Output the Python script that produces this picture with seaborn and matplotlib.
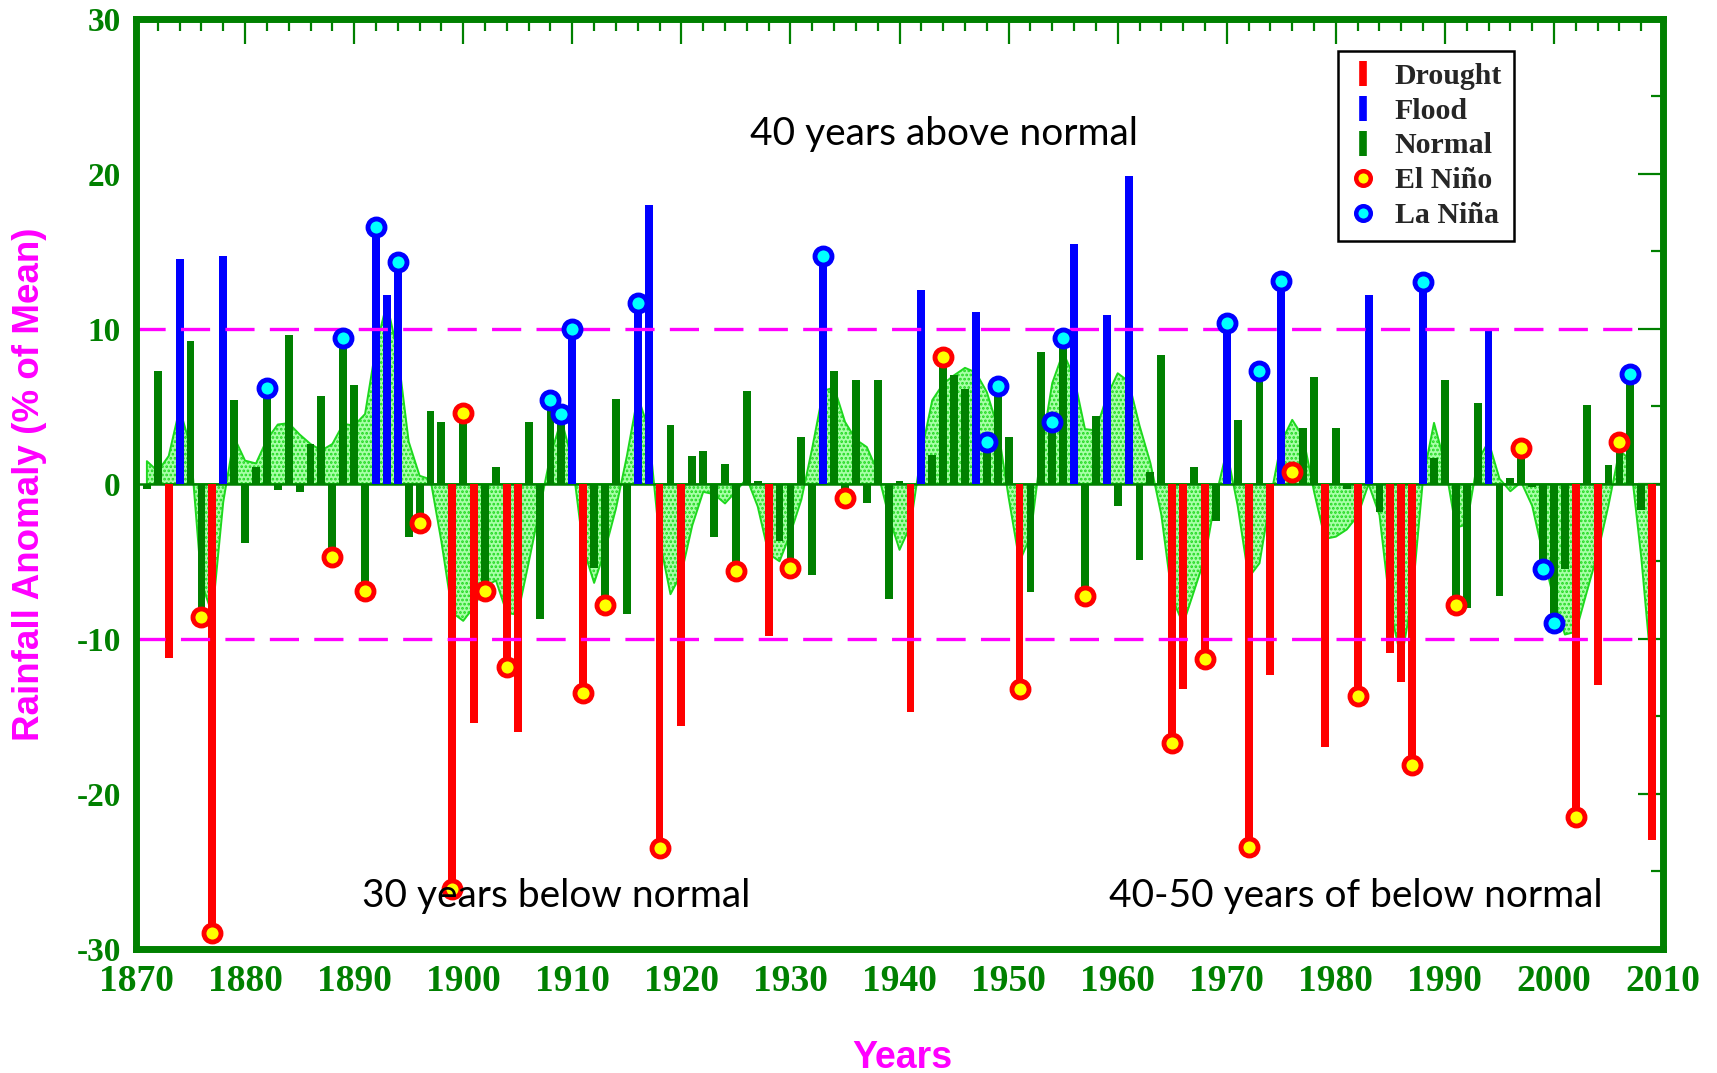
import numpy as np
import pandas as pd
import matplotlib
matplotlib.use("Agg")
import matplotlib.pyplot as plt
import seaborn as sns
from matplotlib.lines import Line2D
from matplotlib.ticker import MultipleLocator, FormatStrFormatter

# ---------------- data ----------------
years = list(range(1871, 2010))
anomaly = [
    -0.3, 7.3, -11.2, 14.5, 9.2, -8.6, -29.0, 14.7, 5.4, -3.8,      # 1871-1880
    1.1, 6.2, -0.4, 9.6, -0.5, 2.6, 5.7, -4.7, 9.4, 6.4,            # 1881-1890
    -6.9, 16.6, 12.2, 14.3, -3.4, -2.5, 4.7, 4.0, -26.1, 4.6,       # 1891-1900
    -15.4, -6.9, 1.1, -11.8, -16.0, 4.0, -8.7, 5.4, 4.5, 10.0,      # 1901-1910
    -13.5, -5.4, -7.8, 5.5, -8.4, 11.7, 18.0, -23.5, 3.8, -15.6,    # 1911-1920
    1.8, 2.1, -3.4, 1.3, -5.6, 6.0, 0.2, -9.8, -3.7, -5.4,          # 1921-1930
    3.0, -5.9, 14.7, 7.3, -0.9, 6.7, -1.2, 6.7, -7.4, 0.2,          # 1931-1940
    -14.7, 12.5, 1.9, 8.2, 7.0, 6.1, 11.1, 2.7, 6.3, 3.0,           # 1941-1950
    -13.2, -7.0, 8.5, 4.0, 9.4, 15.5, -7.2, 4.4, 10.9, -1.4,        # 1951-1960
    19.9, -4.9, 0.8, 8.3, -16.7, -13.2, 1.1, -11.3, -2.4, 10.4,     # 1961-1970
    4.1, -23.4, 7.3, -12.3, 13.1, 0.8, 3.6, 6.9, -17.0, 3.6,        # 1971-1980
    -0.3, -13.7, 12.2, -1.8, -10.9, -12.8, -18.1, 13.0, 1.7, 6.7,   # 1981-1990
    -7.8, -8.0, 5.2, 9.9, -7.2, 0.4, 2.3, -0.2, -5.5, -9.0,         # 1991-2000
    -5.5, -21.5, 5.1, -13.0, 1.2, 2.7, 7.1, -1.7, -23.0,            # 2001-2009
]
drought_years = [1873, 1877, 1899, 1901, 1904, 1905, 1911, 1918, 1920, 1928,
                 1941, 1951, 1965, 1966, 1968, 1972, 1974, 1979, 1982, 1985,
                 1986, 1987, 2002, 2004, 2009]
flood_years = [1874, 1878, 1892, 1893, 1894, 1910, 1916, 1917, 1933, 1942,
               1947, 1956, 1959, 1961, 1970, 1975, 1983, 1988, 1994]
el_nino_years = [1876, 1877, 1888, 1891, 1896, 1899, 1900, 1902, 1904, 1911,
                 1913, 1918, 1925, 1930, 1935, 1944, 1951, 1957, 1965, 1968,
                 1972, 1976, 1982, 1987, 1991, 1997, 2002, 2006]
la_nina_years = [1882, 1889, 1892, 1894, 1908, 1909, 1910, 1916, 1933, 1948,
                 1949, 1954, 1955, 1970, 1973, 1975, 1988, 1999, 2000, 2007]
thresholds = [10, -10]
threshold_span = [1870, 2008]
notes = ["40 years above normal", "30 years below normal", "40-50 years of below normal"]
note_x = [1944.1, 1908.5, 1981.8]
note_y = [22.6, -26.6, -26.6]
categories = ["Drought", "Flood", "Normal"]
cat_colors = ["#ff0000", "#0000ff", "#008000"]

# ---------------- styling ----------------
sns.set_theme(style="white")
plt.rcParams["font.family"] = ["Liberation Serif", "DejaVu Serif"]
plt.rcParams["axes.unicode_minus"] = False
plt.rcParams["lines.scale_dashes"] = False
plt.rcParams["hatch.linewidth"] = 1.3

GREEN = "#008000"
MAGENTA = "#ff00ff"

df = pd.DataFrame({"year": years, "anomaly": anomaly})
df["category"] = np.where(df["year"].isin(drought_years), "Drought",
                          np.where(df["year"].isin(flood_years), "Flood", "Normal"))
# low-pass (binomial 1-4-6-4-1) filtered series shown as hatched band
w = np.array([1, 4, 6, 4, 1], dtype=float)
v = df["anomaly"].to_numpy()
df["smooth"] = np.convolve(v, w, mode="same") / np.convolve(np.ones_like(v), w, mode="same")

fig = plt.figure(figsize=(17.17, 10.73), dpi=100)
ax = fig.add_axes([0.0792, 0.1156, 0.8894, 0.8667])

ax.fill_between(df["year"], df["smooth"], 0, facecolor="#a8ffa8",
                edgecolor="#1ed81e", hatch="....", linewidth=1.4, zorder=1)

sns.barplot(data=df, x="year", y="anomaly", hue="category",
            hue_order=categories, palette=dict(zip(categories, cat_colors)),
            native_scale=True, dodge=False, width=0.72, saturation=1,
            errorbar=None, legend=False, ax=ax, zorder=3, linewidth=0,
            edgecolor="none")

ax.axhline(0, color=GREEN, lw=1.8, zorder=2.5)
ax.hlines(thresholds, threshold_span[0], threshold_span[1], colors=MAGENTA,
          linestyles=[(0, (21, 11))], linewidth=2.4, zorder=4)

sns.scatterplot(data=df[df["year"].isin(el_nino_years)], x="year", y="anomaly",
                marker="o", s=150, color="#ffff00", edgecolor="#ff0000",
                linewidth=3.5, zorder=6, ax=ax, legend=False)
sns.scatterplot(data=df[df["year"].isin(la_nina_years)], x="year", y="anomaly",
                marker="o", s=150, color="#00ffff", edgecolor="#0000ff",
                linewidth=3.5, zorder=6, ax=ax, legend=False)

for s, x, y in zip(notes, note_x, note_y):
    ax.text(x, y, s, ha="center", va="center", fontsize=28,
            family=["Lato", "DejaVu Sans"], color="black", zorder=7)

ax.set_xlim(1870, 2010)
ax.set_ylim(-30, 30)
ax.xaxis.set_major_locator(MultipleLocator(10))
ax.xaxis.set_minor_locator(MultipleLocator(2))
ax.yaxis.set_major_locator(MultipleLocator(10))
ax.yaxis.set_minor_locator(MultipleLocator(5))
ax.xaxis.set_major_formatter(FormatStrFormatter("%d"))
ax.yaxis.set_major_formatter(FormatStrFormatter("%d"))
ax.tick_params(which="both", direction="in", top=True, right=True,
               color=GREEN, width=1.6)
ax.tick_params(which="major", length=18)
ax.tick_params(which="minor", length=8.5)
ax.tick_params(axis="x", labelsize=27, labelcolor=GREEN, pad=11)
ax.tick_params(axis="y", labelsize=24, labelcolor=GREEN, pad=11)
for lbl in ax.get_xticklabels() + ax.get_yticklabels():
    lbl.set_fontweight("bold")
ax.set_xlabel("")
ax.set_ylabel("")
for sp in ax.spines.values():
    sp.set_color(GREEN)
    sp.set_linewidth(5)
    sp.set_zorder(8)

fig.text(30 / 1717, 1 - 484 / 1073, "Rainfall Anomaly (% of Mean)", rotation=90,
         ha="center", va="center", fontsize=26.5, fontweight="bold",
         family=["Liberation Sans", "DejaVu Sans"], color=MAGENTA)
fig.text(902 / 1717, 1 - 1058 / 1073, "Years", ha="center", va="center",
         fontsize=27, fontweight="bold", family=["Liberation Sans", "DejaVu Sans"],
         color=MAGENTA)

handles = [Line2D([0], [0], color=c, marker="|", ls="None", ms=18, mew=5.5, label=n)
           for n, c in zip(categories, cat_colors)]
handles += [
    Line2D([0], [0], marker="o", ls="None", mfc="#ffff00", mec="#ff0000", mew=3.2,
           ms=10.5, label="El Niño"),
    Line2D([0], [0], marker="o", ls="None", mfc="#00ffff", mec="#0000ff", mew=3.2,
           ms=10.5, label="La Niña"),
]
leg = ax.legend(handles=handles, loc="upper right", bbox_to_anchor=(0.9024, 0.9656),
                frameon=True, fancybox=False, edgecolor="black", framealpha=1,
                prop={"family": "Liberation Serif", "weight": "bold", "size": 21.5},
                handlelength=0.9, handletextpad=0.6, labelspacing=0.26,
                borderpad=0.4, borderaxespad=0)
leg.get_frame().set_linewidth(1.8)
leg.set_zorder(9)

fig.savefig("out.png", dpi=100)
